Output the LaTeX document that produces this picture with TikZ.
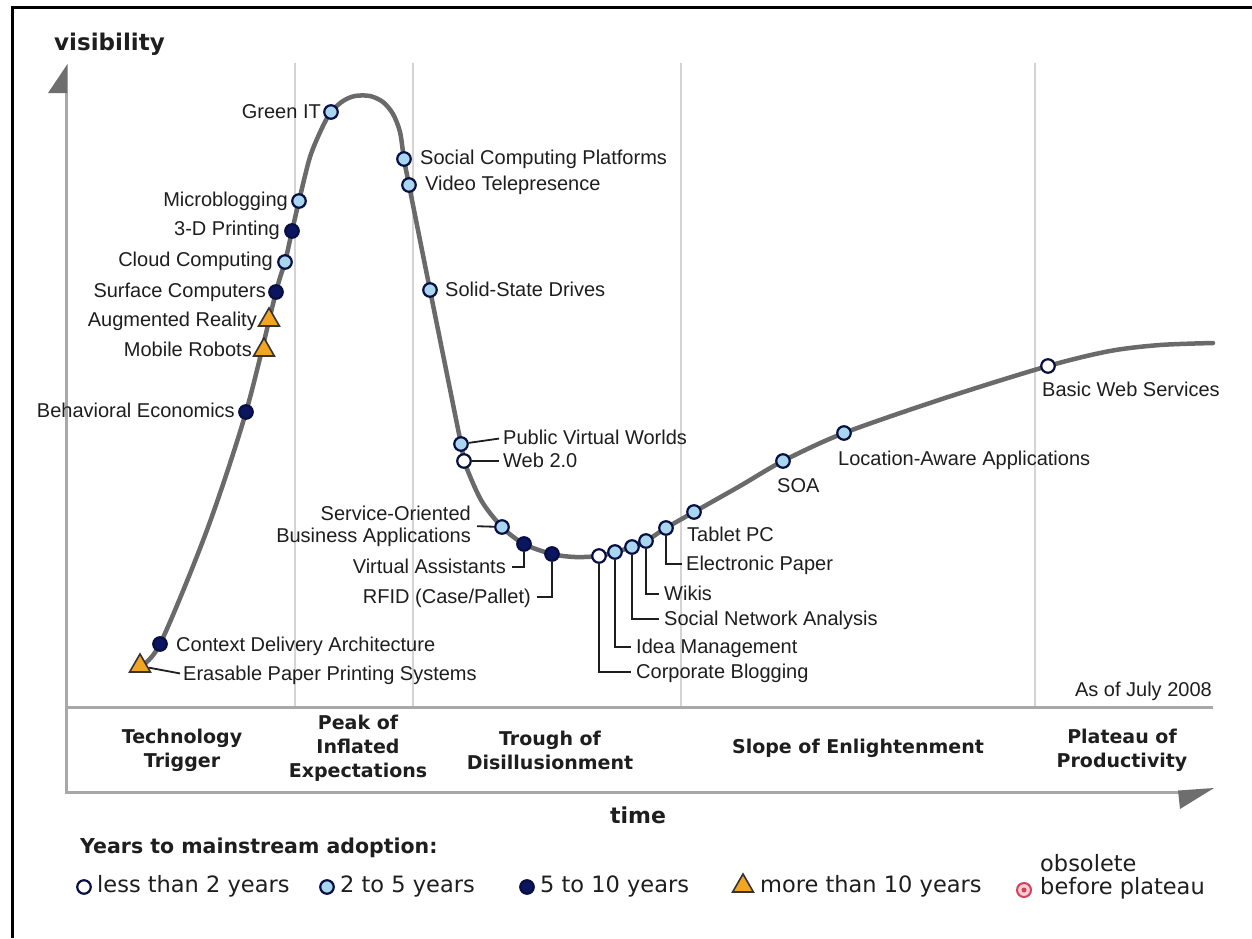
\documentclass[tikz,border=0pt]{standalone}
\usepackage{fontspec}
\setmainfont{Liberation Sans}
\newfontfamily\djv{DejaVu Sans}
\usetikzlibrary{shapes.geometric}
\definecolor{navy}{HTML}{0B1560}
\definecolor{ltblue}{HTML}{A9D6EE}
\definecolor{orng}{HTML}{F2A51E}
\definecolor{curvegray}{HTML}{6A6A6A}
\definecolor{sepgray}{HTML}{D4D4D4}
\definecolor{axisgray}{HTML}{A8A8A8}
\definecolor{arrowgray}{HTML}{6E6E6E}
\definecolor{obsred}{HTML}{D8405A}
\definecolor{txt}{HTML}{1E1E1E}
\begin{document}
\begin{tikzpicture}[x=1pt,y=-1pt,
  mk/.style={circle, draw=navy!70!black, line width=2.2pt, minimum size=13.5pt, inner sep=0pt},
  mkw/.style={mk, fill=white},
  mkb/.style={mk, fill=ltblue},
  mkn/.style={mk, fill=navy},
  mkt/.style={regular polygon, regular polygon sides=3, draw=black!80, fill=orng, line width=1.6pt, minimum size=24pt, inner sep=0pt},
  lbl/.style={font=\fontsize{20}{22}\selectfont, inner sep=0pt, text=txt, text height=14pt, text depth=2pt},
  lblL/.style={lbl, anchor=east},
  lblR/.style={lbl, anchor=west},
  phase/.style={font=\djv\bfseries\fontsize{19}{24}\selectfont, align=center, text=txt, inner sep=0pt},
  legtxt/.style={font=\djv\fontsize{22.5}{23}\selectfont, anchor=west, inner sep=0pt, text=txt, text height=16pt, text depth=5pt},
  conn/.style={draw=txt, line width=1.8pt},
  sep/.style={draw=sepgray, line width=1.6pt},
  axis/.style={draw=axisgray, line width=3pt},
  curve/.style={draw=curvegray, line width=4.5pt, line cap=round, line join=round}
]
\useasboundingbox (0,0) rectangle (1252,938);
\fill[white] (0,0) rectangle (1252,938);
% frame
\draw[line width=3pt] (12,938) -- (12,7) -- (1252,7);
% phase separators
\foreach \sx in {295,413,681,1035} \draw[sep] (\sx,63) -- (\sx,707);
% axes
\draw[axis] (66,93) -- (66,792) -- (1180,792);
\draw[axis] (66,707) -- (1213,707);
\fill[arrowgray] (67.5,64) -- (67.5,93) -- (48,93) -- cycle;
\fill[arrowgray] (1178,790.5) -- (1214,788) -- (1180,809) -- cycle;
\node[font=\djv\bfseries\fontsize{23}{24}\selectfont, anchor=west, inner sep=0pt, text=txt] (vis) at (54,44) {visibility};
\node[font=\djv\bfseries\fontsize{22}{24}\selectfont, inner sep=0pt, text=txt] (time) at (638,815) {time};
% hype curve
\draw[curve] plot[smooth, tension=0.5] coordinates {
 (138,668) (160,644) (207,530) (246,412) (276,292) (285,262) (292,231) (299,201)
 (310,157) (322,128) (331,112) (343,101) (355,96) (370,96) (383,102) (393,114)
 (400,132) (404,159) (409,185) (430,290)
 (461,444) (464,461) (481,500) (502,527) (524,544) (552,554) (575,557)
 (599,556) (615,552) (632,547) (646,541) (666,528) (694,512) (740,486)
 (783,461) (844,433) (945,398) (1048,366) (1110,351) (1160,345) (1213,343)};
% phase labels
\node[phase] (ph1) at (182,750) {Technology\\Trigger};
\node[phase] (ph2) at (358,748) {Peak of\\Inflated\\Expectations};
\node[phase] (ph3) at (550,750) {Trough of\\Disillusionment};
\node[phase] (ph4) at (858,748) {Slope of Enlightenment};
\node[phase] (ph5) at (1122,750) {Plateau of\\Productivity};
% rising side
\node[mkt] (ep) at (140,666) {};
\node[mkn] (cda) at (160,644) {};
\node[mkn] (be) at (246,412) {};
\node[mkt] (mr) at (264,350) {};
\node[mkt] (ar) at (269,320) {};
\node[mkn] (sc) at (276,292) {};
\node[mkb] (cc) at (285,262) {};
\node[mkn] (tdp) at (292,231) {};
\node[mkb] (mb) at (299,201) {};
\node[mkb] (git) at (331,112) {};
\node[lblR] (cdaL) at (176,645) {Context Delivery Architecture};
\node[lblR] (epL) at (183,674) {Erasable Paper Printing Systems};
\draw[conn, shorten >=3pt] (ep) -- (epL.west);
\node[lblL] (beL) at (235,411) {Behavioral Economics};
\node[lblL] (mrL) at (252,350) {Mobile Robots};
\node[lblL] (arL) at (257,320) {Augmented Reality};
\node[lblL] (scL) at (266,291) {Surface Computers};
\node[lblL] (ccL) at (273,260) {Cloud Computing};
\node[lblL] (tdpL) at (280,229) {3-D Printing};
\node[lblL] (mbL) at (288,200) {Microblogging};
\node[lblL] (gitL) at (321,112) {Green IT};
% falling side
\node[mkb] (scp) at (404,159) {};
\node[mkb] (vt) at (409,185) {};
\node[mkb] (ssd) at (430,290) {};
\node[mkb] (pvw) at (461,444) {};
\node[mkw] (web) at (464,461) {};
\node[lblR] (scpL) at (420,158) {Social Computing Platforms};
\node[lblR] (vtL) at (425,184) {Video Telepresence};
\node[lblR] (ssdL) at (445,290) {Solid-State Drives};
\node[lblR] (pvwL) at (503,438) {Public Virtual Worlds};
\node[lblR] (webL) at (503,461) {Web 2.0};
\draw[conn, shorten >=4pt] (pvw) -- (pvwL.west);
\draw[conn, shorten >=4pt] (web) -- (webL.west);
% trough
\node[mkb] (soba) at (502,527) {};
\node[mkn] (va) at (524,544) {};
\node[mkn] (rfid) at (552,554) {};
\node[lbl, anchor=east, align=right, text height=, text depth=] (sobaL) at (471,526) {Service-Oriented\\Business Applications};
\node[lblL] (vaL) at (506,567) {Virtual Assistants};
\node[lblL] (rfidL) at (531,597) {RFID (Case/Pallet)};
\draw[conn, shorten <=6pt] (sobaL.east) -- (soba);
\draw[conn, shorten <=6pt] (vaL.east) -| (va);
\draw[conn, shorten <=6pt] (rfidL.east) -| (rfid);
% slope
\node[mkw] (cb) at (599,556) {};
\node[mkb] (im) at (615,552) {};
\node[mkb] (sna) at (632,547) {};
\node[mkb] (wk) at (646,541) {};
\node[mkb] (epa) at (666,528) {};
\node[mkb] (tpc) at (694,512) {};
\node[mkb] (soa) at (783,461) {};
\node[mkb] (laa) at (844,433) {};
\node[mkw] (bws) at (1048,366) {};
\node[lblR] (cbL) at (636,672) {Corporate Blogging};
\node[lblR] (imL) at (636,647) {Idea Management};
\node[lblR] (snaL) at (664,619) {Social Network Analysis};
\node[lblR] (wkL) at (664,594) {Wikis};
\node[lblR] (epaL) at (686,564) {Electronic Paper};
\node[lblR] (tpcL) at (687,535) {Tablet PC};
\node[lblR] (soaL) at (777,486) {SOA};
\node[lblR] (laaL) at (838,459) {Location-Aware Applications};
\node[lblR] (bwsL) at (1042,390) {Basic Web Services};
\draw[conn, shorten >=5pt] (cb) |- (cbL.west);
\draw[conn, shorten >=5pt] (im) |- (imL.west);
\draw[conn, shorten >=5pt] (sna) |- (snaL.west);
\draw[conn, shorten >=5pt] (wk) |- (wkL.west);
\draw[conn, shorten >=4pt] (epa) |- (epaL.west);
\node[lbl, anchor=east] (asof) at (1212,690) {As of July 2008};
% legend
\node[font=\djv\bfseries\fontsize{20.5}{22}\selectfont, anchor=west, inner sep=0pt, text=txt] (legT) at (80,848) {Years to mainstream adoption:};
\node[mkw] (lg1) at (84,887) {};
\node[legtxt] (lg1L) at (97,887) {less than 2 years};
\node[mkb] (lg2) at (327,887) {};
\node[legtxt] (lg2L) at (340,887) {2 to 5 years};
\node[mkn] (lg3) at (527,887) {};
\node[legtxt] (lg3L) at (540,887) {5 to 10 years};
\node[mkt] (lg4) at (743,886) {};
\node[legtxt] (lg4L) at (760,887) {more than 10 years};
\node[circle, draw=obsred, fill=obsred!25, line width=2pt, minimum size=14pt, inner sep=0pt] (lg5) at (1024,890) {};
\fill[obsred] (lg5.center) circle (2.5pt);
\node[legtxt, text height=, text depth=, align=left] (lg5L) at (1040,877) {obsolete\\before plateau};
\end{tikzpicture}
\end{document}
